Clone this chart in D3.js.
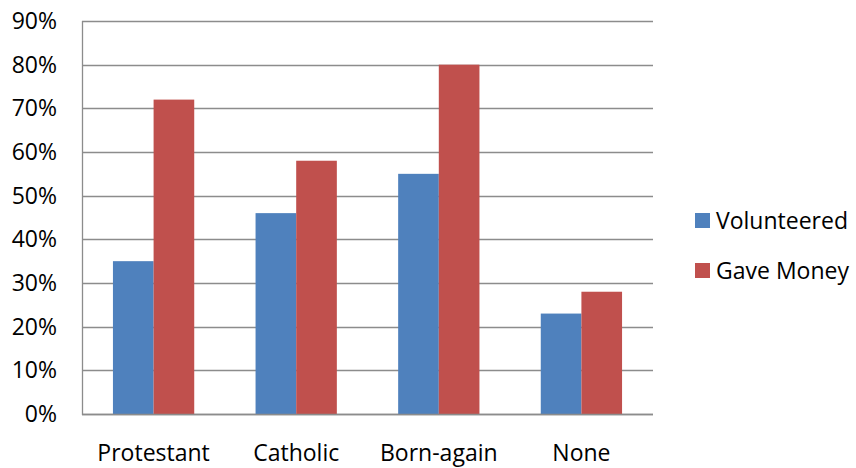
<!DOCTYPE html>
<html>
<head>
<meta charset="utf-8">
<script src="https://cdn.jsdelivr.net/npm/d3@7"></script>
<style>
  html, body { margin: 0; padding: 0; background: #fff; }
  svg { display: block; }
  text { font-family: "Open Sans", "Noto Sans", sans-serif; fill: #000; }
</style>
</head>
<body>
<svg id="chart" width="856" height="468"></svg>
<script>
// Religious groups and the share of each that volunteered / gave money
const categories = ["Protestant", "Catholic", "Born-again", "None"];
const seriesNames = ["Volunteered", "Gave Money"];
const volunteered = [0.35, 0.46, 0.55, 0.23];
const gaveMoney = [0.72, 0.58, 0.80, 0.28];
const yTicks = [0, 0.1, 0.2, 0.3, 0.4, 0.5, 0.6, 0.7, 0.8, 0.9];
const colors = ["#4F81BD", "#C0504D"];

const svg = d3.select("#chart");
const plot = { left: 82, right: 653, top: 21, bottom: 414 };

const x = d3.scaleBand().domain(categories).range([plot.left, plot.right]).paddingInner(0.43).paddingOuter(0.217);
const xs = d3.scaleBand().domain(seriesNames).range([0, x.bandwidth()]);
const y = d3.scaleLinear().domain([0, 0.9]).range([plot.bottom, plot.top]);

// horizontal gridlines
svg.append("g")
  .selectAll("line")
  .data(yTicks)
  .join("line")
  .attr("x1", plot.left).attr("x2", plot.right)
  .attr("y1", d => Math.round(y(d)) + 0.5).attr("y2", d => Math.round(y(d)) + 0.5)
  .attr("stroke", "#8c8c8c").attr("stroke-width", 1.3);

// bars
const rows = categories.map((c, i) => ({ c, vals: [volunteered[i], gaveMoney[i]] }));
svg.append("g")
  .selectAll("g")
  .data(rows)
  .join("g")
  .attr("transform", d => `translate(${x(d.c)},0)`)
  .selectAll("rect")
  .data(d => d.vals.map((v, k) => ({ v, k })))
  .join("rect")
  .attr("x", d => xs(seriesNames[d.k]))
  .attr("width", xs.bandwidth())
  .attr("y", d => y(d.v))
  .attr("height", d => y(0) - y(d.v))
  .attr("fill", d => colors[d.k]);

// axis lines
svg.append("line")
  .attr("x1", plot.left + 0.5).attr("x2", plot.left + 0.5)
  .attr("y1", plot.top).attr("y2", plot.bottom + 1)
  .attr("stroke", "#8c8c8c").attr("stroke-width", 1.3);
svg.append("line")
  .attr("x1", plot.left).attr("x2", plot.right)
  .attr("y1", Math.round(y(0)) + 0.5).attr("y2", Math.round(y(0)) + 0.5)
  .attr("stroke", "#8c8c8c").attr("stroke-width", 1.3);

// y tick labels
const fmt = d3.format(".0%");
svg.append("g")
  .selectAll("text")
  .data(yTicks)
  .join("text")
  .attr("x", 57)
  .attr("y", d => y(d) + 8)
  .attr("text-anchor", "end")
  .attr("font-size", 23)
  .text(d => fmt(d));

// category labels
svg.append("g")
  .selectAll("text")
  .data(categories)
  .join("text")
  .attr("x", d => x(d) + x.bandwidth() / 2)
  .attr("y", 461)
  .attr("text-anchor", "middle")
  .attr("font-size", 23)
  .text(d => d);

// legend
const legend = svg.append("g")
  .selectAll("g")
  .data(seriesNames)
  .join("g")
  .attr("transform", (d, i) => `translate(695,${213 + i * 50})`);
legend.append("rect")
  .attr("width", 15).attr("height", 15)
  .attr("fill", (d, i) => colors[i]);
legend.append("text")
  .attr("x", 21).attr("y", 16)
  .attr("font-size", 23)
  .text(d => d);
</script>
</body>
</html>
